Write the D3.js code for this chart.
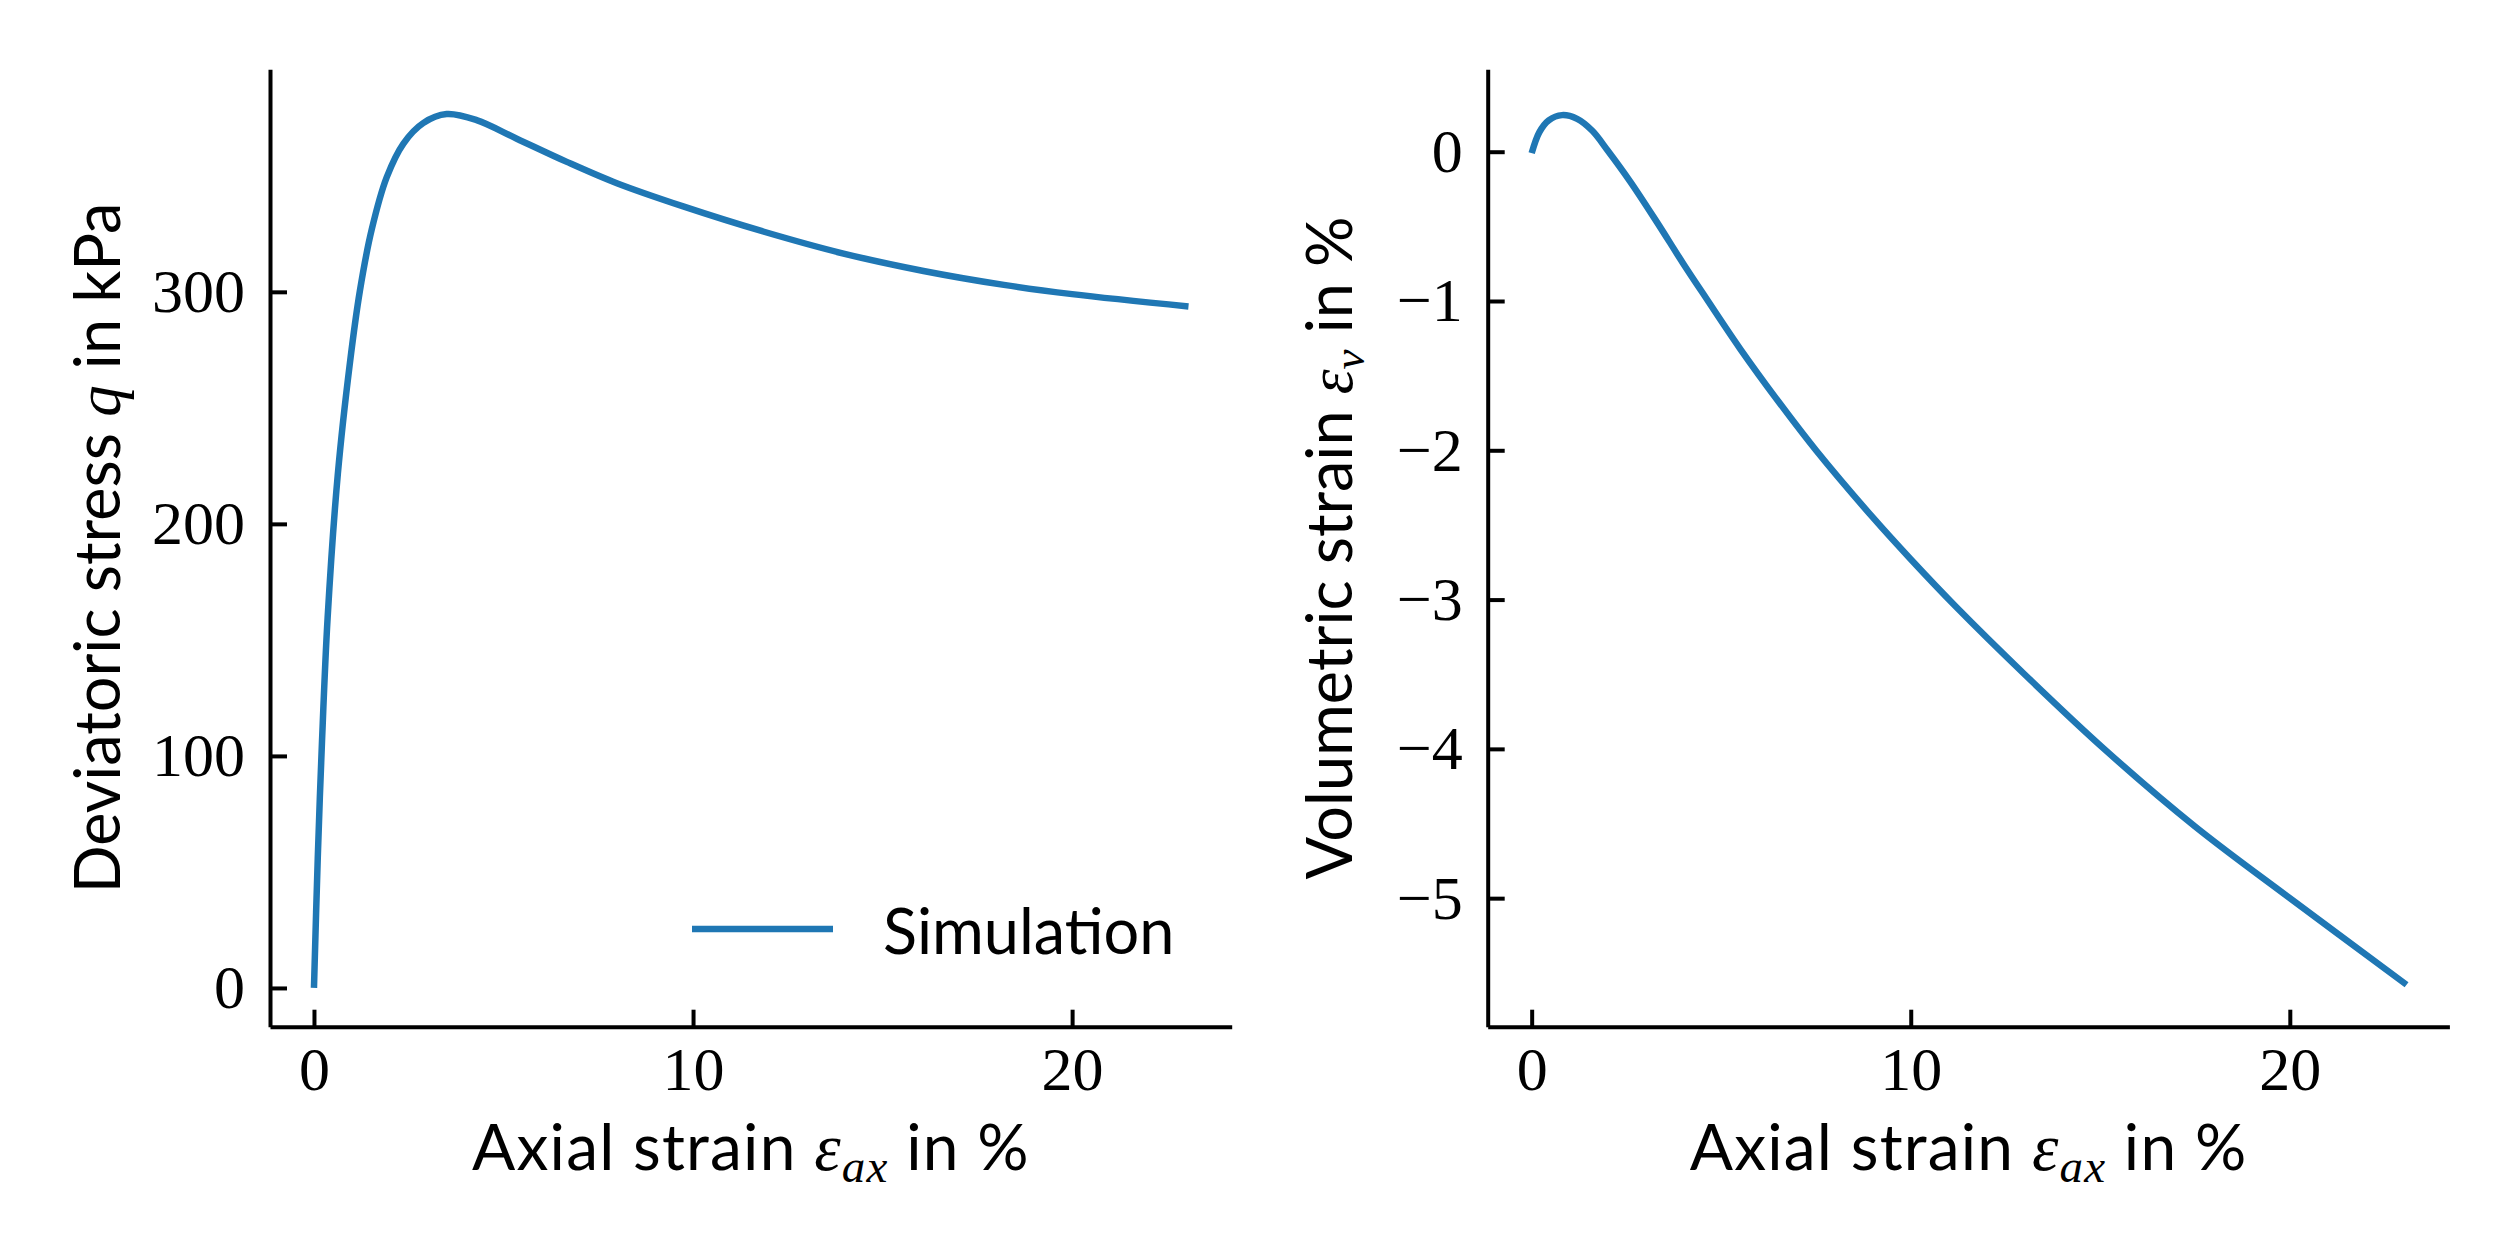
<!DOCTYPE html>
<html>
<head>
<meta charset="utf-8">
<script src="https://cdn.jsdelivr.net/npm/d3@7"></script>
<style>
  body { margin: 0; background: #fff; }
  .tick text { font-family: "Liberation Serif", serif; font-size: 62px; fill: #000; }
  .lab { font-family: "Lato", sans-serif; font-size: 63px; fill: #000; }
  .xlab { font-size: 64px; letter-spacing: 1.2px; }
  .math { font-family: "Liberation Serif", serif; font-style: italic; }
</style>
</head>
<body>
<div id="chart"></div>
<script>
// axial strain (%) and deviatoric stress q (kPa)
const strainQ = [0, 0.1, 0.21, 0.36, 0.63, 0.95, 1.21, 1.52, 1.92, 2.36, 2.88, 3.5, 4.29, 5.35, 6.67, 7.99, 9.74, 11.85, 13.97, 16.08, 18.2, 20.0, 23.07];
const qValues = [0, 56, 105.5, 159.5, 221.6, 269.6, 300.3, 326.6, 349.4, 363.9, 372.7, 376.6, 374, 366, 356, 346.8, 336.8, 326, 316.5, 309, 303, 299, 293.7];

// axial strain (%) and volumetric strain (%), right panel
const strainV = [0, 0.2, 0.45, 0.8, 1.2, 1.6, 2.0, 2.6, 3.3, 4.0, 4.6, 5.5, 6.5, 7.5, 9.0, 10.0, 11.2, 13.0, 15.1, 17.5, 20.0, 23.08];
const evValues = [-0.01, 0.13, 0.21, 0.245, 0.22, 0.14, 0.01, -0.2, -0.47, -0.75, -0.98, -1.32, -1.67, -2.0, -2.45, -2.73, -3.05, -3.5, -4.0, -4.52, -5.0, -5.58];

const xTicks = [0, 10, 20];
const qTicks = [0, 100, 200, 300];
const evTicks = [0, -1, -2, -3, -4, -5];

const xLim = [-1.16, 24.21];
const qLim = [-16.7, 395.9];
const evLim = [-5.861, 0.552];

const W = 2519, H = 1259;
const plotTop = 69.3, plotBottom = 1026.7;
const blue = '#1f77b4';

const svg = d3.select('#chart').append('svg')
    .attr('width', W)
    .attr('height', H);

function panel({left, right, xs, ys, yLim, yTicks, yLabel, legend}) {
    const x = d3.scaleLinear().domain(xLim).range([left, right]);
    const y = d3.scaleLinear().domain(yLim).range([plotBottom, plotTop]);
    const g = svg.append('g');

    const line = d3.line()
        .x(d => x(d[0]))
        .y(d => y(d[1]))
        .curve(d3.curveCatmullRom.alpha(0.5));

    g.append('path')
        .datum(xs.map((v, i) => [v, ys[i]]))
        .attr('d', line)
        .attr('fill', 'none')
        .attr('stroke', blue)
        .attr('stroke-width', 6.5);

    const xAxis = g.append('g')
        .attr('transform', `translate(0,${plotBottom})`)
        .call(d3.axisBottom(x).tickValues(xTicks).tickFormat(d3.format('d'))
            .tickSize(-17).tickSizeOuter(0).tickPadding(19));
    const yAxis = g.append('g')
        .attr('transform', `translate(${left},0)`)
        .call(d3.axisLeft(y).tickValues(yTicks).tickFormat(d3.format('d'))
            .tickSize(-17).tickSizeOuter(0).tickPadding(25));

    [xAxis, yAxis].forEach(a => {
        a.select('.domain').attr('stroke-width', 4).attr('stroke', '#000');
        a.selectAll('.tick line').attr('stroke-width', 4).attr('stroke', '#000');
        a.attr('font-size', null).attr('font-family', null);
    });

    // x label
    const xl = g.append('text')
        .attr('class', 'lab xlab')
        .attr('x', (left + right) / 2)
        .attr('y', 1170)
        .attr('text-anchor', 'middle');
    xl.append('tspan').text('Axial strain ');
    xl.append('tspan').attr('class', 'math').attr('font-size', '67px').text('ε');
    xl.append('tspan').attr('class', 'math').attr('font-size', '47px').attr('dy', 12).text('ax');
    xl.append('tspan').attr('dy', -12).text(' in %');

    // y label
    const yl = g.append('text')
        .attr('class', 'lab')
        .attr('transform', `translate(${yLabel.x},${(plotTop + plotBottom) / 2}) rotate(-90)`)
        .attr('text-anchor', 'middle');
    yl.append('tspan').text(yLabel.pre);
    yl.append('tspan').attr('class', 'math').text(yLabel.sym);
    if (yLabel.sub) {
        yl.append('tspan').attr('class', 'math').attr('font-size', '45px').attr('dy', 12).text(yLabel.sub);
        yl.append('tspan').attr('dy', -12).text(yLabel.post);
    } else {
        yl.append('tspan').text(yLabel.post);
    }

    if (legend) {
        g.append('line')
            .attr('x1', 692).attr('x2', 833)
            .attr('y1', 929).attr('y2', 929)
            .attr('stroke', blue).attr('stroke-width', 6.5);
        g.append('text')
            .attr('class', 'lab')
            .attr('x', 883).attr('y', 954)
            .text(legend);
    }
}

panel({
    left: 270, right: 1231.7,
    xs: strainQ, ys: qValues,
    yLim: qLim, yTicks: qTicks,
    yLabel: {x: 120, pre: 'Deviatoric stress ', sym: 'q', post: ' in kPa'},
    legend: 'Simulation'
});

panel({
    left: 1487.7, right: 2449.4,
    xs: strainV, ys: evValues,
    yLim: evLim, yTicks: evTicks,
    yLabel: {x: 1352, pre: 'Volumetric strain ', sym: 'ε', sub: 'v', post: ' in %'}
});
</script>
</body>
</html>
